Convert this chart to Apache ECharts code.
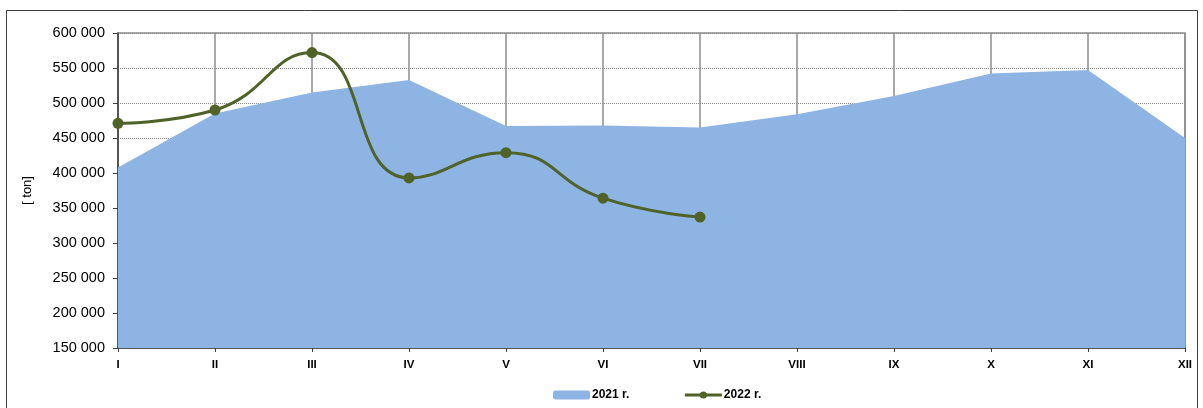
<!DOCTYPE html>
<html>
<head>
<meta charset="utf-8">
<script src="https://cdn.jsdelivr.net/npm/echarts@6/dist/echarts.min.js"></script>
<style>
  html, body { margin: 0; padding: 0; background: #fff; }
  #chart { width: 1203px; height: 408px; }
</style>
</head>
<body>
<div id="chart"></div>
<script>
// months
const months = ['I', 'II', 'III', 'IV', 'V', 'VI', 'VII', 'VIII', 'IX', 'X', 'XI', 'XII'];
// 2021 (area)
const values2021 = [408000, 485000, 515000, 533000, 467000, 468000, 465000, 484000, 510000, 542000, 547000, 450000];
// 2022 (line)
const values2022 = [471000, 490000, 572000, 393000, 429000, 364000, 337000];

const chart = echarts.init(document.getElementById('chart'));

const fmt = v => String(v).replace(/\B(?=(\d{3})+(?!\d))/g, ' ');

const option = {
    animation: false,
    backgroundColor: '#fff',
    textStyle: { fontFamily: 'Liberation Sans, Arial, sans-serif' },
    graphic: [{
        type: 'rect',
        shape: { x: 6.5, y: 10.5, width: 1191, height: 410 },
        style: { fill: 'none', stroke: '#404040', lineWidth: 1 },
        silent: true,
        z: 100
    }],
    grid: {
        left: 118, right: 18, top: 33, bottom: 60, containLabel: false,
        show: true, borderColor: '#8c8c8c', borderWidth: 1.5, backgroundColor: 'transparent'
    },
    legend: {
        top: 384,
        left: 548,
        itemGap: 54,
        itemWidth: 37,
        itemHeight: 9,
        textStyle: { fontSize: 12, fontWeight: 'bold', color: '#000', padding: [0, 0, 0, -3] },
        data: [
            { name: '2021 r.', icon: 'roundRect' },
            { name: '2022 r.', lineStyle: { width: 3 } }
        ]
    },
    xAxis: {
        type: 'category',
        data: months,
        boundaryGap: false,
        axisLine: { lineStyle: { color: '#404040', width: 1.5 } },
        axisTick: { show: true, length: 4, lineStyle: { color: '#404040' }, alignWithLabel: true },
        axisLabel: { color: '#000', fontSize: 11.5, fontWeight: 'bold', margin: 11 },
        splitLine: { show: true, lineStyle: { color: '#8c8c8c', width: 1.5 } }
    },
    yAxis: {
        type: 'value',
        min: 150000,
        max: 600000,
        interval: 50000,
        name: '[ ton]',
        nameLocation: 'middle',
        nameGap: 84,
        nameRotate: 90,
        nameTextStyle: { color: '#000', fontSize: 13 },
        axisLine: { show: true, lineStyle: { color: '#404040', width: 1.5 } },
        axisTick: { show: true, length: 5, lineStyle: { color: '#404040' } },
        axisLabel: { color: '#000', fontSize: 14.5, margin: 13, formatter: v => fmt(v) },
        splitLine: { show: true, lineStyle: { color: '#8c8c8c', type: [1, 1], width: 1 } }
    },
    series: [
        {
            name: '2021 r.',
            type: 'line',
            data: values2021,
            symbol: 'none',
            lineStyle: { width: 0, color: '#8EB4E3' },
            itemStyle: { color: '#8EB4E3' },
            areaStyle: { color: '#8EB4E3', opacity: 1 },
            z: 1
        },
        {
            name: '2022 r.',
            type: 'line',
            data: values2022,
            smooth: 0.5,
            symbol: 'circle',
            symbolSize: 11,
            lineStyle: { width: 3, color: '#4F6228' },
            itemStyle: { color: '#4F6228' },
            z: 20
        }
    ]
};

chart.setOption(option);
</script>
</body>
</html>
